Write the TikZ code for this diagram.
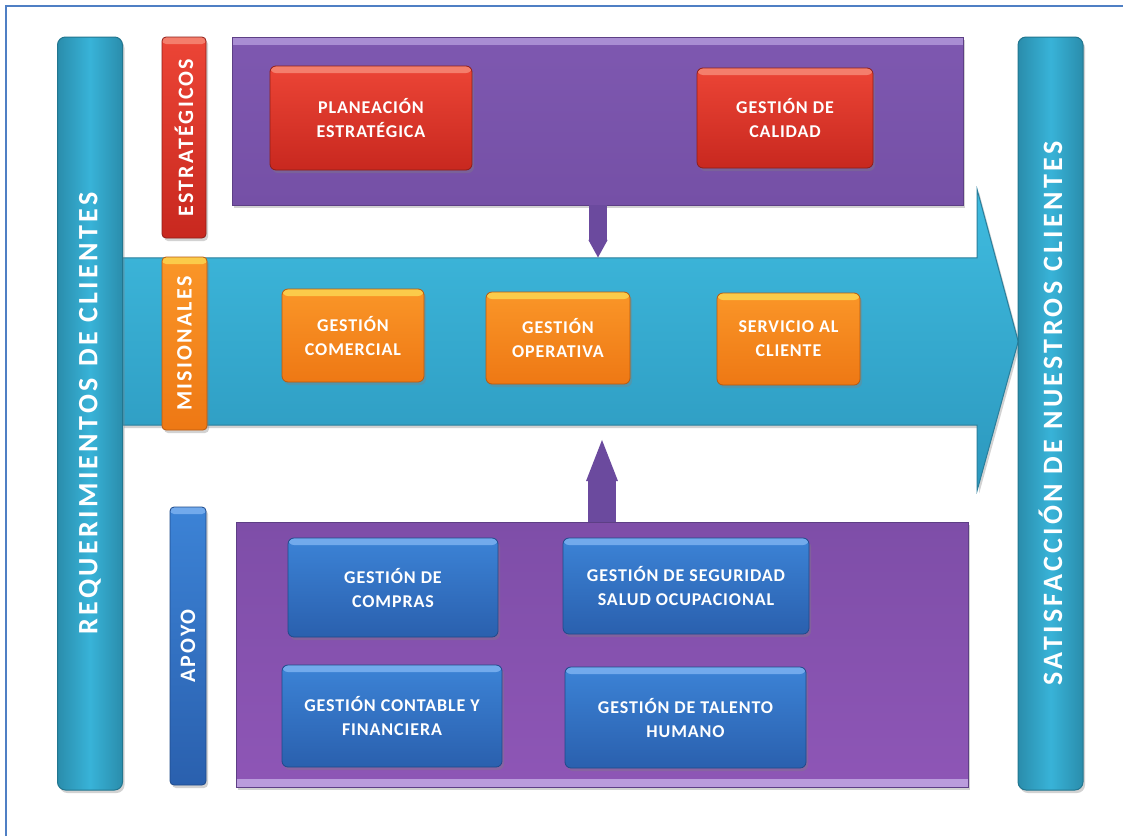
\documentclass[tikz,border=0pt]{standalone}
\usepackage{fontspec}
\setmainfont{Carlito}
\usetikzlibrary{shadows,arrows.meta,calc}
\definecolor{frameC}{HTML}{4F7FC4}
\definecolor{cyanD}{HTML}{2A8DAC}
\definecolor{cyanL}{HTML}{38B3D8}
\definecolor{cyanE}{HTML}{22768F}
\definecolor{arrT}{HTML}{3FBBDF}
\definecolor{arrB}{HTML}{2C98BE}
\definecolor{arrE}{HTML}{2A7F9C}
\definecolor{purT}{HTML}{7E58B0}
\definecolor{purB}{HTML}{7550A6}
\definecolor{purH}{HTML}{A98DD3}
\definecolor{purE}{HTML}{5D3F85}
\definecolor{pubT}{HTML}{7E4EA8}
\definecolor{pubB}{HTML}{8E56B6}
\definecolor{pubH}{HTML}{BA9CDC}
\definecolor{ptrC}{HTML}{6B4A9E}
\definecolor{redT}{HTML}{EC4536}
\definecolor{redB}{HTML}{C8281F}
\definecolor{redH}{HTML}{F47E6C}
\definecolor{redE}{HTML}{8E1E18}
\definecolor{oraT}{HTML}{FA9628}
\definecolor{oraB}{HTML}{EE7814}
\definecolor{oraH}{HTML}{FBCB4A}
\definecolor{oraE}{HTML}{B85A10}
\definecolor{bluT}{HTML}{3C83D6}
\definecolor{bluB}{HTML}{2A60AE}
\definecolor{bluH}{HTML}{72AAEC}
\definecolor{bluE}{HTML}{1F4A8A}
\newcommand\bxfont{\bfseries\fontsize{18}{24}\selectfont\addfontfeature{LetterSpace=5}}
\newcommand\vsfont{\bfseries\fontsize{22}{24}\selectfont\addfontfeature{LetterSpace=10}}
\newcommand\vbfont{\bfseries\fontsize{28}{30}\selectfont\addfontfeature{LetterSpace=12}}
\tikzset{
  shad/.style={drop shadow={opacity=0.35, shadow xshift=2pt, shadow yshift=-3pt}},
  glossy/.style n args={4}{shad, rounded corners=6pt, inner sep=0pt, text=white,
     align=center, font=\bxfont, top color=#1, bottom color=#2, draw=#4, line width=0.8pt,
     path picture={\fill[#3] ([yshift=2pt]path picture bounding box.north west)
        rectangle ([yshift=-7pt]path picture bounding box.north east);}},
  redbox/.style={glossy={redT}{redB}{redH}{redE}},
  orabox/.style={glossy={oraT}{oraB}{oraH}{oraE}},
  blubox/.style={glossy={bluT}{bluB}{bluH}{bluE}},
  cyanbar/.style={shad, rounded corners=8pt, left color=cyanD, right color=cyanD,
     middle color=cyanL, draw=cyanE, line width=1pt, inner sep=0pt},
  vsmall/.style={rotate=90, text=white, font=\vsfont, inner sep=0pt},
  vbig/.style={rotate=90, text=white, font=\vbfont, inner sep=0pt},
  purtop/.style={shad, top color=purT, bottom color=purB, draw=purE, line width=0.8pt,
     inner sep=0pt, path picture={\fill[purH] ([yshift=2pt]path picture bounding box.north west)
        rectangle ([yshift=-8pt]path picture bounding box.north east);}},
  purbot/.style={shad, top color=pubT, bottom color=pubB, draw=purE, line width=0.8pt,
     inner sep=0pt, path picture={\fill[pubH] ([yshift=-2pt]path picture bounding box.south west)
        rectangle ([yshift=8pt]path picture bounding box.south east);}},
  flowarrow/.style={shad, top color=arrT, bottom color=arrB, draw=arrE, line width=1pt},
  pointer/.style={draw=ptrC}
}
\begin{document}
\begin{tikzpicture}[x=1pt,y=-1pt]
\useasboundingbox (0,0) rectangle (1123,836);
\fill[white] (0,0) rectangle (1123,836);
\draw[frameC, line width=1.5pt] (6,836) -- (6,6) -- (1123,6);

% main flow arrow
\node[minimum width=855pt, minimum height=167pt, inner sep=0pt] (flow) at (549.5,341.5) {};
\path[flowarrow] (flow.north west) -- (flow.north east) -- ($(flow.north east)+(0,-68)$)
   -- ($(flow.east)+(41,0)$) -- ($(flow.south east)+(0,65)$) -- (flow.south east)
   -- (flow.south west) -- cycle;

% side bars
\node[cyanbar, minimum width=65pt, minimum height=753pt] (req) at (90,413.5) {};
\node[vbig] (reqlbl) at (req) {REQUERIMIENTOS\hspace{0.4em}DE CLIENTES};
\node[cyanbar, minimum width=65pt, minimum height=753pt] (sat) at (1050.5,413.5) {};
\node[vbig] (satlbl) at (sat) {SATISFACCIÓN DE NUESTROS CLIENTES};

% purple panels
\node[purtop, minimum width=731pt, minimum height=168pt] (estr) at (597.5,121) {};
\node[purbot, minimum width=732pt, minimum height=265pt] (apo) at (602,654.5) {};

% pointers
\coordinate (dp) at (598,0);
\coordinate (uptip) at (602,437);
\draw[pointer, line width=18pt, -{Triangle[length=18pt,width=18pt]}] (estr.south -| dp) -- (flow.north -| dp);
\draw[pointer, line width=28pt, -{Triangle[length=44pt,width=28pt]}] (apo.north -| uptip) -- (uptip);

% category tabs
\node[redbox, rounded corners=4pt, minimum width=44pt, minimum height=201pt] (est) at (184,137.5) {};
\node[vsmall] (estlbl) at (est) {ESTRATÉGICOS};
\node[orabox, rounded corners=4pt, minimum width=45pt, minimum height=173pt] (mis) at (184.5,343.5) {};
\node[vsmall] (mislbl) at (mis) {MISIONALES};
\node[blubox, rounded corners=4pt, minimum width=36pt, minimum height=278pt] (apy) at (188,646) {};
\node[vsmall] (apylbl) at (apy) {APOYO};

% strategic processes
\node[redbox, minimum width=202pt, minimum height=104pt] (plan) at (371,118) {PLANEACIÓN\\ESTRATÉGICA};
\node[redbox, minimum width=176pt, minimum height=100pt] (cal) at (785,118) {GESTIÓN DE\\CALIDAD};

% mission processes
\node[orabox, minimum width=142pt, minimum height=93pt] (com) at (353,335.5) {GESTIÓN\\COMERCIAL};
\node[orabox, minimum width=144pt, minimum height=92pt] (ope) at (558,338) {GESTIÓN\\OPERATIVA};
\node[orabox, minimum width=143pt, minimum height=92pt] (ser) at (788.5,339) {SERVICIO AL\\CLIENTE};

% support processes
\node[blubox, minimum width=210pt, minimum height=99pt] (compras) at (393,587.5) {GESTIÓN DE\\COMPRAS};
\node[blubox, minimum width=246pt, minimum height=96pt] (seg) at (686,586) {GESTIÓN DE SEGURIDAD\\SALUD OCUPACIONAL};
\node[blubox, minimum width=220pt, minimum height=102pt] (cont) at (392,716) {GESTIÓN CONTABLE Y\\FINANCIERA};
\node[blubox, minimum width=241pt, minimum height=101pt] (tal) at (685.5,717.5) {GESTIÓN DE TALENTO\\HUMANO};
\end{tikzpicture}
\end{document}
